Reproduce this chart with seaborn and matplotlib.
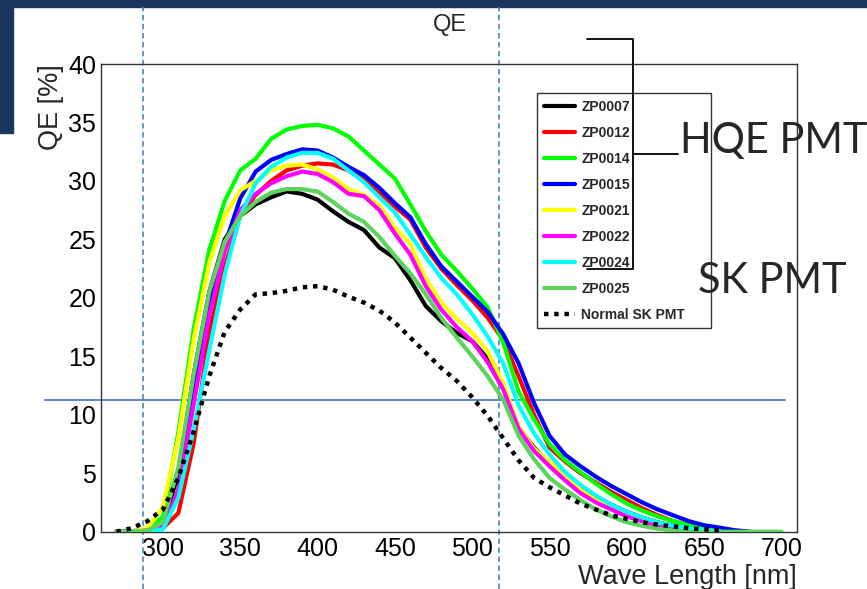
### IMPORTS

import matplotlib
matplotlib.use("Agg")
import matplotlib.pyplot as plt
from matplotlib.lines import Line2D
from matplotlib.patches import Rectangle
from matplotlib.ticker import MultipleLocator
import seaborn as sns

### DATA (QE in %)

wavelength = list(range(270, 710, 10))

zp0007 = [0, 0, 0.1, 0.5, 5.0, 13.5, 20.5, 25.0, 27.0, 28.0, 28.6, 29.1, 28.9, 28.4, 27.4, 26.5, 25.8, 24.3,
          23.4, 21.5, 19.3, 18.0, 17.0, 16.3, 14.8, 12.3, 8.9, 7.2, 5.8, 4.8, 3.8, 3.0, 2.3, 1.7, 1.2, 0.8,
          0.5, 0.3, 0.15, 0.05]
zp0012 = [0, 0, 0.1, 0.3, 1.6, 7.6, 17.0, 22.6, 27.0, 28.8, 30.0, 30.9, 31.3, 31.5, 31.4, 30.9, 30.1, 29.0,
          27.8, 26.7, 24.3, 22.5, 21.1, 19.8, 18.3, 16.4, 13.3, 10.0, 7.2, 6.0, 5.0, 4.2, 3.4, 2.7, 2.0, 1.4,
          0.9, 0.5, 0.25, 0.1]
zp0014 = [0, 0.05, 0.2, 1.3, 8.5, 17.4, 24.1, 28.3, 30.9, 31.9, 33.6, 34.4, 34.7, 34.8, 34.5, 33.8, 32.6, 31.4,
          30.2, 28.0, 25.7, 23.7, 22.3, 20.8, 19.2, 16.2, 12.0, 9.6, 7.5, 6.1, 5.1, 4.1, 3.2, 2.4, 1.8, 1.3,
          0.9, 0.6, 0.35, 0.15, 0.05]
zp0015 = [0, 0.05, 0.1, 0.3, 3.5, 12.0, 19.5, 24.5, 28.5, 30.8, 31.8, 32.3, 32.7, 32.6, 32.0, 31.2, 30.5, 29.4,
          28.1, 26.9, 24.6, 22.7, 21.4, 20.1, 18.8, 16.9, 14.4, 11.0, 8.2, 6.6, 5.6, 4.7, 3.9, 3.2, 2.5, 1.9,
          1.4, 0.9, 0.55, 0.35, 0.12, 0]
zp0021 = [0, 0, 0.3, 2.1, 8.0, 16.5, 23.0, 27.0, 29.2, 30.0, 30.9, 31.3, 31.4, 31.0, 30.3, 29.3, 28.8, 27.9,
          26.0, 24.6, 21.6, 19.6, 18.2, 17.0, 15.4, 12.7, 9.0, 7.1, 6.0, 4.8, 3.6, 2.7, 2.1, 1.5, 1.0, 0.6,
          0.35, 0.2, 0.1, 0.03]
zp0022 = [0, 0, 0.1, 0.4, 3.5, 11.0, 18.5, 24.0, 27.5, 28.9, 29.8, 30.4, 30.8, 30.6, 29.9, 28.9, 28.7, 27.5,
          25.5, 23.7, 21.0, 19.0, 17.5, 16.3, 14.5, 12.2, 8.8, 6.9, 5.6, 4.4, 3.3, 2.5, 1.9, 1.3, 0.9, 0.55,
          0.3, 0.15, 0.05]
zp0024 = [0, 0, 0.05, 0.2, 2.9, 8.8, 15.5, 22.0, 27.0, 29.8, 31.2, 32.0, 32.4, 32.4, 31.9, 30.9, 29.9, 28.6,
          27.3, 25.4, 23.5, 21.7, 20.3, 18.6, 16.7, 14.4, 10.8, 8.4, 6.6, 5.1, 4.0, 3.1, 2.3, 1.7, 1.2, 0.8,
          0.5, 0.3, 0.15, 0.05]
zp0025 = [0, 0, 0.1, 0.8, 5.5, 13.5, 20.5, 24.8, 27.0, 28.2, 29.0, 29.3, 29.3, 29.1, 28.2, 27.2, 26.5, 25.2,
          23.6, 22.1, 20.3, 18.3, 16.6, 15.0, 13.3, 11.3, 8.2, 6.2, 4.6, 3.6, 2.7, 1.9, 1.3, 0.8, 0.5, 0.25,
          0.1, 0, 0, 0, 0, 0, 0, 0]
normal_sk = [0, 0.3, 0.9, 1.9, 4.6, 8.6, 13.3, 17.1, 19.0, 20.3, 20.4, 20.6, 20.9, 21.0, 20.7, 20.1, 19.6, 18.9,
             17.9, 16.6, 15.3, 14.0, 12.9, 11.5, 9.9, 8.0, 6.1, 4.6, 3.8, 3.1, 2.4, 1.9, 1.4, 1.1, 0.8, 0.6,
             0.45, 0.3, 0.2, 0.1]

names = ["ZP0007", "ZP0012", "ZP0014", "ZP0015", "ZP0021", "ZP0022", "ZP0024", "ZP0025"]
series = [zp0007, zp0012, zp0014, zp0015, zp0021, zp0022, zp0024, zp0025]
colors = ["#000000", "#ff0000", "#00ff00", "#0000ff", "#ffff00", "#ff00ff", "#00ffff", "#5cd35c"]

sk_cut = 11.27            # horizontal marker line (QE %)
window = [287, 517.5]     # vertical dashed markers (nm)

### STYLE

sns.set_style("white")
plt.rcParams["font.family"] = ["Liberation Sans", "DejaVu Sans"]

W, H = 867, 589
fig = plt.figure(figsize=(W / 100, H / 100), dpi=100)
ax = fig.add_axes([101 / W, 1 - 531.7 / H, 696 / W, 467.7 / H])

### CURVES

for name, vals, col in zip(names, series, colors):
    sns.lineplot(x=wavelength[:len(vals)], y=vals, color=col, lw=3, ax=ax, label=name, zorder=3)

sns.lineplot(x=wavelength[:len(normal_sk)], y=normal_sk, color="black", lw=3.2, ax=ax,
             label="Normal SK PMT", zorder=3)
ax.lines[-1].set_dashes([1, 1.3])
ax.lines[-1].set_dash_capstyle("butt")

### MARKER LINES

for wl in window:
    ax.axvline(wl, ymin=(531.7 - 589) / 467.7, ymax=(531.7 - 7) / 467.7, clip_on=False,
               color="#5b8bc6", lw=1.3, ls=(0, (3, 2)), zorder=1)
ax.axhline(sk_cut, xmin=(45 - 101) / 696, xmax=(785 - 101) / 696, clip_on=False,
           color="#4a7ec2", lw=1.3, zorder=1)

### AXES

ax.set_xlim(260, 710)
ax.set_ylim(0, 40)
ax.xaxis.set_major_locator(MultipleLocator(50))
ax.xaxis.set_minor_locator(MultipleLocator(10))
ax.yaxis.set_major_locator(MultipleLocator(5))
ax.yaxis.set_minor_locator(MultipleLocator(1))
ax.tick_params(which="both", direction="in", top=False, right=False, colors="#222222",
               labelsize=18, labelcolor="black")
ax.tick_params(axis="x", which="major", length=10, width=1, pad=4)
ax.tick_params(axis="x", which="minor", length=5, width=1)
ax.tick_params(axis="y", which="major", length=15, width=1, pad=3.5)
ax.tick_params(axis="y", which="minor", length=7.5, width=1)
for sp in ax.spines.values():
    sp.set_color("#333333")
    sp.set_linewidth(1)

ax.set_xlabel("Wave Length [nm]", fontsize=19.5, loc="right", labelpad=2)
ax.set_ylabel("QE [%]", fontsize=19.5, loc="top", labelpad=3)

leg = ax.legend(loc="upper left", bbox_to_anchor=(537 / W, 1 - 327 / H, 174 / W, 234 / H),
                bbox_transform=fig.transFigure, mode="expand",
                prop={"weight": "bold", "size": 10}, frameon=True, fancybox=False, framealpha=1,
                edgecolor="#333333", handlelength=2.25, handletextpad=0.45, labelspacing=0.86,
                borderpad=0.5, borderaxespad=0)
leg.get_frame().set_linewidth(1)
leg.set_zorder(5)

### SLIDE DECORATION

fig.text(450 / W, 1 - 25 / H, "QE", fontsize=17, ha="center", va="center")

fig.add_artist(Rectangle((0, 1 - 7 / H), 1, 7 / H, transform=fig.transFigure, color="#1a365d", zorder=0))
fig.add_artist(Rectangle((0, 1 - 133 / H), 13 / W, 133 / H, transform=fig.transFigure, color="#1a365d", zorder=0))

bx = [587, 633, 633, 587]
by = [39, 39, 269, 269]
fig.add_artist(Line2D([v / W for v in bx], [1 - v / H for v in by], transform=fig.transFigure,
                      color="black", lw=1.3, zorder=6))
fig.add_artist(Line2D([633 / W, 678 / W], [1 - 154 / H, 1 - 154 / H], transform=fig.transFigure,
                      color="black", lw=1.3, zorder=6))

fig.text(680 / W, 1 - 153 / H, "HQE PMT", fontsize=30, family="Lato", ha="left", va="baseline", zorder=6)
fig.text(698 / W, 1 - 293 / H, "SK PMT", fontsize=30, family="Lato", ha="left", va="baseline", zorder=6)

fig.savefig("out.png", dpi=100)
